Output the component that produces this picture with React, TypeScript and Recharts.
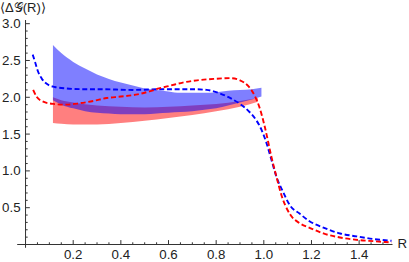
import React from 'react';
import { ComposedChart, XAxis, YAxis, Area, Line, ReferenceLine } from 'recharts';

// Blue dashed curve
const blueLineR = [0.03, 0.04, 0.05, 0.067, 0.095, 0.123, 0.17, 0.24, 0.31, 0.45, 0.58, 0.7, 0.76, 0.8, 0.84, 0.87, 0.9, 0.94, 0.97, 0.99, 1.01, 1.032, 1.053, 1.08, 1.11, 1.15, 1.19, 1.25, 1.32, 1.39, 1.46, 1.536];
const blueLineV = [2.58, 2.48, 2.37, 2.26, 2.17, 2.14, 2.12, 2.11, 2.11, 2.1, 2.11, 2.11, 2.1, 2.07, 2.02, 1.97, 1.91, 1.8, 1.68, 1.56, 1.39, 1.15, 0.92, 0.72, 0.53, 0.42, 0.32, 0.23, 0.15, 0.11, 0.075, 0.05];

// Red dashed curve
const redLineR = [0.032, 0.046, 0.074, 0.116, 0.172, 0.228, 0.284, 0.34, 0.4, 0.47, 0.52, 0.56, 0.61, 0.66, 0.72, 0.79, 0.86, 0.9, 0.935, 0.962, 0.983, 1.004, 1.032, 1.053, 1.074, 1.11, 1.15, 1.19, 1.25, 1.32, 1.4, 1.46, 1.536];
const redLineV = [2.1, 2.01, 1.94, 1.91, 1.9, 1.92, 1.95, 1.99, 2.01, 2.04, 2.08, 2.12, 2.16, 2.2, 2.23, 2.25, 2.26, 2.23, 2.15, 2.02, 1.85, 1.6, 1.19, 0.92, 0.67, 0.41, 0.29, 0.23, 0.15, 0.095, 0.06, 0.045, 0.027];

// Blue band
const blueBandR = [0.115, 0.15, 0.2, 0.25, 0.3, 0.35, 0.4, 0.45, 0.5, 0.55, 0.6, 0.65, 0.7, 0.75, 0.8, 0.85, 0.9, 0.95, 0.99];
const blueBandLow = [1.96, 1.9, 1.85, 1.81, 1.79, 1.78, 1.77, 1.77, 1.77, 1.78, 1.79, 1.8, 1.81, 1.83, 1.85, 1.89, 1.93, 1.97, 2.01];
const blueBandHigh = [2.71, 2.6, 2.48, 2.39, 2.31, 2.25, 2.2, 2.16, 2.12, 2.1, 2.08, 2.06, 2.06, 2.06, 2.07, 2.09, 2.1, 2.11, 2.13];

// Red band
const redBandR = [0.115, 0.15, 0.2, 0.3, 0.4, 0.5, 0.6, 0.7, 0.8, 0.9, 0.975];
const redBandLow = [1.65, 1.64, 1.63, 1.63, 1.65, 1.68, 1.72, 1.76, 1.81, 1.87, 1.94];
const redBandHigh = [2.0, 1.96, 1.93, 1.89, 1.87, 1.86, 1.87, 1.89, 1.91, 1.95, 1.99];

// Ticks
const xMajorTicks = [0.2, 0.4, 0.6, 0.8, 1.0, 1.2, 1.4];
const xMinorTicks = [0.05, 0.1, 0.15, 0.25, 0.3, 0.35, 0.45, 0.5, 0.55, 0.65, 0.7, 0.75, 0.85, 0.9, 0.95, 1.05, 1.1, 1.15, 1.25, 1.3, 1.35, 1.45, 1.5];
const yMajorTicks = [0.5, 1.0, 1.5, 2.0, 2.5, 3.0];
const yMinorTicks = [0.1, 0.2, 0.3, 0.4, 0.6, 0.7, 0.8, 0.9, 1.1, 1.2, 1.3, 1.4, 1.6, 1.7, 1.8, 1.9, 2.1, 2.2, 2.3, 2.4, 2.6, 2.7, 2.8, 2.9];

const yLabel = '⟨Δ𝒢(R)⟩';
const xLabel = 'R';

const blueLine = blueLineR.map((x, i) => ({ x, v: blueLineV[i] }));
const redLine = redLineR.map((x, i) => ({ x, v: redLineV[i] }));
const blueBand = blueBandR.map((x, i) => ({ x, r: [blueBandLow[i], blueBandHigh[i]] }));
const redBand = redBandR.map((x, i) => ({ x, r: [redBandLow[i], redBandHigh[i]] }));

const FONT = "'Liberation Sans', Arial, sans-serif";
const AXIS = '#333';

const XTick = (props: any) => {
  const { x, y, payload } = props;
  return (
    <text x={x} y={y + 14.8} textAnchor="middle" fontSize={13.3} fontFamily={FONT} fill="#222">
      {Number(payload.value).toFixed(1)}
    </text>
  );
};

const YTick = (props: any) => {
  const { x, y, payload } = props;
  return (
    <text x={x + 3.4} y={y + 4.6} textAnchor="end" fontSize={13.3} fontFamily={FONT} fill="#222">
      {Number(payload.value).toFixed(1)}
    </text>
  );
};

export default function App() {
  return (
    <div style={{ position: 'absolute', left: 0, top: 0, width: 409, height: 262, background: '#fff' }}>
      <ComposedChart width={409} height={262} margin={{ top: 20, right: 16.5, bottom: 0, left: 0 }}>
        <XAxis
          type="number"
          dataKey="x"
          domain={[-0.035, 1.54]}
          ticks={xMajorTicks}
          tick={<XTick />}
          tickLine={false}
          tickSize={0}
          tickMargin={0}
          axisLine={{ stroke: AXIS, strokeWidth: 1 }}
          height={17.5}
          allowDataOverflow
        />
        <YAxis
          type="number"
          domain={[0, 3.05]}
          ticks={yMajorTicks}
          tick={<YTick />}
          tickLine={false}
          tickSize={0}
          tickMargin={0}
          axisLine={false}
          width={17.2}
          allowDataOverflow
        />
        <Area data={redBand} dataKey="r" type="monotone" stroke="none" fill="#ff0000" fillOpacity={0.5} isAnimationActive={false} />
        <Area data={blueBand} dataKey="r" type="monotone" stroke="none" fill="#0000ff" fillOpacity={0.5} isAnimationActive={false} />
        <Line data={blueLine} dataKey="v" type="monotone" stroke="#0000ff" strokeWidth={1.9} strokeDasharray="5 2.7" dot={false} isAnimationActive={false} />
        <Line data={redLine} dataKey="v" type="monotone" stroke="#ff0000" strokeWidth={1.9} strokeDasharray="5 2.7" dot={false} isAnimationActive={false} />
        <ReferenceLine segment={[{ x: 0, y: -0.045 }, { x: 0, y: 3.05 }]} stroke={AXIS} strokeWidth={1} ifOverflow="visible" />
        {xMajorTicks.map((t) => (
          <ReferenceLine key={'xM' + t} segment={[{ x: t, y: 0 }, { x: t, y: 0.06 }]} stroke={AXIS} strokeWidth={1} ifOverflow="visible" />
        ))}
        {xMinorTicks.map((t) => (
          <ReferenceLine key={'xm' + t} segment={[{ x: t, y: 0 }, { x: t, y: 0.03 }]} stroke={AXIS} strokeWidth={1} ifOverflow="visible" />
        ))}
        {yMajorTicks.map((t) => (
          <ReferenceLine key={'yM' + t} segment={[{ x: 0, y: t }, { x: 0.018, y: t }]} stroke={AXIS} strokeWidth={1} ifOverflow="visible" />
        ))}
        {yMinorTicks.map((t) => (
          <ReferenceLine key={'ym' + t} segment={[{ x: 0, y: t }, { x: 0.009, y: t }]} stroke={AXIS} strokeWidth={1} ifOverflow="visible" />
        ))}
      </ComposedChart>
      <div style={{ position: 'absolute', left: 0, top: 0, fontSize: 13, fontFamily: FONT, color: '#222', whiteSpace: 'nowrap', lineHeight: '15px' }}>
        {yLabel}
      </div>
      <div style={{ position: 'absolute', left: 397.5, top: 236, fontSize: 13.3, fontFamily: FONT, color: '#222', whiteSpace: 'nowrap', lineHeight: '15px' }}>
        {xLabel}
      </div>
    </div>
  );
}
